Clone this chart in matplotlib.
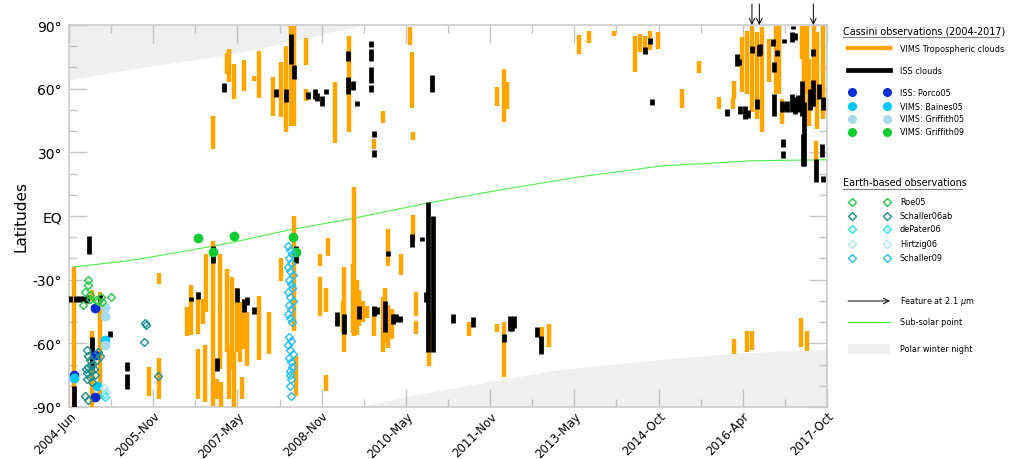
import matplotlib
matplotlib.use("Agg")
import matplotlib.pyplot as plt
from matplotlib.patches import Rectangle
from matplotlib.transforms import ScaledTranslation
import numpy as np

# ---------------- data ----------------
tick_labels = ["2004-Jun", "2005-Nov", "2007-May", "2008-Nov", "2010-May",
               "2011-Nov", "2013-May", "2014-Oct", "2016-Apr", "2017-Oct"]
t_start, t_end = 2004.417, 2017.75

# VIMS tropospheric clouds: (year, lat_low, lat_high)
vims = [
    (2004.50, -90, -24), (2004.82, -90, -54), (2004.82, -40, -35), (2004.96, -86, -36),
    (2005.82, -85, -71), (2006.00, -32, -27), (2006.00, -86, -67), (2006.49, -56.5, -43),
    (2006.56, -56, -32.5), (2006.69, -55.6, -36), (2006.69, -86, -62.7), (2006.77, -51, -39),
    (2006.81, -87.6, -61), (2006.83, -45, -18), (2006.95, -89.5, -12), (2007.02, -86, -76.8),
    (2007.07, -72, -18), (2007.09, -90, -78), (2007.20, -64, -25), (2007.23, -86, -61),
    (2007.28, -72, -28.7), (2007.32, -90, -64), (2007.37, -64, -34), (2007.42, -69, -40.5),
    (2007.46, -86, -76), (2007.50, -62.7, -39), (2007.55, -70.7, -45), (2007.76, -68, -37.7),
    (2007.94, -65, -45), (2008.15, -30.6, -20), (2008.38, -10.8, 0), (2008.38, -54, -10.8),
    (2008.41, -85, -66), (2008.83, -23.6, -18), (2008.83, -47, -28.7), (2008.97, -18.8, -10.4),
    (2008.94, -45, -34), (2008.94, -82.5, -75), (2009.25, -64, -24), (2009.23, -55, -40),
    (2009.43, -56.5, 13.7), (2009.41, -55, -22.6), (2009.48, -56, -30), (2009.52, -52, -35),
    (2009.59, -50, -40), (2009.66, -48, -42.4), (2009.78, -56.5, -47), (2009.94, -64, -38),
    (2009.98, -60, -34), (2010.03, -23.6, -6), (2010.03, -62, -42), (2010.10, -58, -44),
    (2010.26, -27.8, -18), (2010.47, -11.8, 0.5), (2010.52, -47, -36), (2010.52, -55.6, -49.5),
    (2010.75, -70.7, -45), (2011.45, -56.5, -50), (2011.95, -54.7, -51), (2012.07, -76, -50),
    (2012.74, -61.7, -52.3), (2012.86, -61.7, -51), (2016.11, -65, -58), (2016.34, -64, -54),
    (2016.43, -63, -54), (2017.29, -61.7, -48), (2017.40, -63.6, -54),
    (2006.95, 31.6, 47), (2007.20, 67, 77), (2007.23, 63, 78.7), (2007.32, 55, 71.6),
    (2007.50, 59, 73.5), (2007.67, 63.6, 66), (2007.76, 55.6, 77.8), (2008.01, 47, 65.5),
    (2008.15, 46.7, 72.6), (2008.23, 39.6, 80), (2008.32, 42.4, 89.5), (2008.38, 42.4, 89.5),
    (2008.59, 71, 84), (2008.59, 54, 60), (2009.10, 34.4, 63), (2009.34, 39.6, 85),
    (2009.94, 43.8, 49.5), (2009.78, 31.6, 36.3), (2010.42, 80.6, 89), (2010.45, 51, 77.3),
    (2010.47, 35.8, 39.6), (2011.95, 51.8, 61), (2012.07, 44.3, 69.3), (2012.12, 50.4, 63),
    (2013.39, 76.3, 85.3), (2013.56, 81.5, 87), (2014.00, 84.8, 87), (2014.37, 67.9, 84.8),
    (2014.46, 77.3, 85.8), (2014.55, 76.3, 85), (2014.64, 78, 87), (2014.78, 78.7, 86.5),
    (2015.20, 50.9, 59.8), (2015.50, 67.4, 73), (2015.85, 50.4, 56), (2016.10, 50.4, 55.6),
    (2016.11, 55, 63.6), (2016.26, 58.4, 84.4), (2016.34, 57.5, 87), (2016.43, 49, 89.5),
    (2016.52, 45.7, 86.7), (2016.61, 39.6, 89), (2016.73, 63, 83.4), (2016.85, 57.5, 89.5),
    (2016.90, 57.5, 89.5), (2016.96, 43.4, 55), (2017.31, 74, 89.5), (2017.35, 50, 89.5),
    (2017.40, 57.5, 89.5), (2017.43, 42.4, 74), (2017.52, 59.8, 89.5), (2017.57, 41, 86.7),
    (2017.56, 25.4, 35.3), (2017.68, 45.7, 89.5),
]
vims_year = [v[0] for v in vims]
vims_lo = [v[1] for v in vims]
vims_hi = [v[2] for v in vims]

# ISS clouds: (year, lat_low, lat_high)
iss = [
    (2004.50, -90, -80), (2004.77, -17.9, -9.4), (2004.43, -40.5, -37.7), (2004.54, -40.5, -37.7),
    (2004.61, -40.5, -37.7), (2004.68, -40.5, -37.7), (2004.73, -41, -37), (2004.82, -64, -57),
    (2004.82, -72, -66), (2004.96, -40, -37), (2005.14, -57, -54), (2005.44, -73, -69),
    (2005.44, -81.5, -74.5), (2006.56, -40, -38), (2006.69, -39, -36), (2007.02, -73, -67),
    (2006.95, -22, -14), (2007.37, -40.5, -34), (2007.50, -45, -39), (2007.55, -42, -38),
    (2007.67, -46, -43), (2008.41, -22, -14), (2009.13, -52, -45), (2009.25, -55.6, -46),
    (2007.14, 58.4, 62.7), (2008.06, 56, 60), (2008.23, 53.7, 60), (2008.32, 71.6, 85.8),
    (2008.38, 64.6, 71), (2008.62, 55, 58.4), (2008.74, 55, 60), (2008.78, 54, 58),
    (2008.87, 52, 56.5), (2008.94, 57.5, 60), (2009.33, 73, 77.8), (2009.33, 57.5, 65.5),
    (2009.41, 59.4, 63.6), (2009.48, 51.8, 54), (2009.73, 79.6, 82.5), (2009.73, 73, 78.7),
    (2009.73, 62.7, 70), (2009.73, 58.4, 61.7), (2009.78, 37.2, 40), (2009.78, 27.8, 31),
    (2010.80, 58.4, 66.4), (2009.52, -48.5, -42.4), (2009.78, -47, -42.4), (2009.83, -46, -43),
    (2009.98, -54.7, -40), (2010.03, -18.8, -16.5), (2010.12, -51, -46), (2010.17, -50, -46),
    (2010.24, -50, -47), (2010.45, -14.6, -8.5), (2010.63, -12, -10), (2010.70, -40.5, -36),
    (2010.73, -64, 6.6), (2010.82, -64, 0), (2011.17, -50.4, -46), (2011.52, -52.3, -47.6),
    (2012.17, -54, -47), (2012.21, -54, -48), (2012.24, -53, -47), (2012.07, -59.4, -55.6),
    (2012.65, -57, -52.3), (2012.72, -65, -56.5), (2014.55, 76.3, 79.6), (2014.64, 81, 84),
    (2014.67, 52.3, 55), (2015.99, 47, 50.4), (2016.17, 70.7, 76.3), (2016.20, 71, 74),
    (2016.22, 48, 51.8), (2016.31, 45.7, 51.8), (2016.36, 46, 50), (2016.43, 76.8, 80),
    (2016.55, 75.4, 80.6), (2016.57, 76, 81), (2016.52, 50.4, 55), (2016.80, 80, 83.4),
    (2016.82, 67.9, 72.6), (2016.87, 75.4, 78), (2016.82, 47, 57.5), (2016.96, 49, 54),
    (2017.00, 50, 53), (2017.05, 49, 54), (2016.99, 81.5, 83.4), (2016.98, 32.5, 36.3),
    (2016.98, 27.3, 30.6), (2017.13, 82, 86.7), (2017.19, 83, 86), (2017.16, 88, 89.5),
    (2017.13, 49, 57.5), (2017.16, 50, 56), (2017.19, 48, 55), (2017.22, 51, 56),
    (2017.24, 49, 57), (2017.31, 47, 63.6), (2017.35, 23.6, 53.7), (2017.33, 23.6, 38.6),
    (2017.45, 50, 60), (2017.48, 52, 58), (2017.50, 75.4, 78.7), (2017.50, 52, 64),
    (2017.56, 16, 26.9), (2017.61, 55, 62), (2017.66, 27.8, 34), (2017.68, 16, 18.8),
    (2017.68, 50, 56),
]
iss_year = [v[0] for v in iss]
iss_lo = [v[1] for v in iss]
iss_hi = [v[2] for v in iss]

# Cassini point observations
porco05_year = [2004.50, 2004.87, 2004.87, 2004.87]
porco05_lat = [-75, -43.3, -65.5, -85.3]
baines05_year = [2004.50, 2004.91, 2005.05]
baines05_lat = [-76.5, -80, -58.4]
griffith05_year = [2005.05, 2005.05, 2005.05]
griffith05_lat = [-43, -47, -61]
griffith09_year = [2006.69, 2006.95, 2007.32, 2008.36, 2008.41]
griffith09_lat = [-10.4, -17, -9.4, -10, -17]

# Earth-based observations
roe05_year = [2004.75, 2004.75, 2004.70, 2004.79, 2004.66, 2004.79, 2004.89, 2004.98, 2005.00, 2005.16, 2004.93]
roe05_lat = [-30, -32.5, -36, -37, -42, -39, -39.5, -38, -40.5, -38, -40]
schaller06_year = [2004.73, 2004.75, 2004.78, 2004.82, 2004.75, 2004.71, 2004.80, 2004.73, 2004.85,
                   2004.78, 2004.87, 2004.73, 2004.82, 2004.91, 2004.93, 2004.96, 2004.70, 2004.75,
                   2005.75, 2005.77, 2005.74, 2005.98]
schaller06_lat = [-63, -66, -68, -70, -71, -72, -73, -74, -72, -76, -75, -77, -78, -68, -64, -66,
                  -85, -86.7, -50.4, -51.5, -59.4, -75.4]
depater06_year = [2005.05, 2005.03]
depater06_lat = [-85.5, -84]
hirtzig06_year = [2005.03, 2005.06]
hirtzig06_lat = [-81, -83]
schaller09_year = [2008.27, 2008.31, 2008.34, 2008.29, 2008.33, 2008.27, 2008.31, 2008.35, 2008.28,
                   2008.32, 2008.34, 2008.27, 2008.31, 2008.35, 2008.29, 2008.33, 2008.27, 2008.31,
                   2008.34, 2008.29, 2008.33, 2008.27, 2008.31, 2008.35, 2008.28, 2008.32, 2008.34,
                   2008.30, 2008.31, 2008.33, 2008.30, 2008.32]
schaller09_lat = [-14, -16, -18, -20, -22, -24, -26, -28, -30, -32, -34, -36, -38, -40, -42, -44,
                  -46, -48, -50, -57, -59, -61, -63, -65, -67, -69, -71, -73, -75, -77, -80, -85]

# features at 2.1 micron
feature_year = [2016.43, 2016.56, 2017.51]

# sub-solar latitude
subsolar_year = [2004.50, 2005.49, 2006.37, 2007.25, 2008.30, 2009.36, 2010.73, 2012.00,
                 2013.41, 2014.81, 2016.40, 2017.73]
subsolar_lat = [-24, -21, -17, -12.7, -6.5, -1.4, 6.1, 12.3, 18.5, 23.5, 26, 26.5]

# polar winter night boundaries
night_n_year = [2004.417, 2005.44, 2006.32, 2007.23, 2008.30, 2009.18, 2009.60]
night_n_lat = [64, 69, 72.5, 76, 82, 87.5, 90]
night_s_year = [2009.54, 2010.55, 2011.60, 2013.01, 2014.64, 2016.22, 2017.75]
night_s_lat = [-90, -84, -79, -72.5, -68, -64.5, -62.7]

# ---------------- figure ----------------
W, H = 1010, 460
fig = plt.figure(figsize=(W / 100, H / 100), dpi=100)
ax = fig.add_axes([69 / W, (H - 408) / H, (827 - 69) / W, (408 - 26) / H])

night_col = "#efefef"
ax.fill_between(night_n_year, night_n_lat, 90, color=night_col, lw=0, zorder=0)
ax.fill_between(night_s_year, -90, night_s_lat, color=night_col, lw=0, zorder=0)

ax.plot(subsolar_year, subsolar_lat, color="#4cee4c", lw=0.8, zorder=2)

ax.vlines(vims_year, vims_lo, vims_hi, color="#ffa500", lw=3.2, zorder=3)
ax.vlines(iss_year, iss_lo, iss_hi, color="black", lw=3.4, zorder=4)

c_porco, c_baines, c_grif05, c_grif09 = "#0a2ed6", "#00c8ff", "#a6dcea", "#11cc33"
c_roe, c_sch06, c_dep, c_hirt, c_sch09 = "#22cc44", "#1a8f8f", "#22e8f5", "#aee6ee", "#22c0f5"

ms = 6
ax.plot(porco05_year, porco05_lat, "o", color=c_porco, ms=ms, zorder=6)
ax.plot(baines05_year, baines05_lat, "o", color=c_baines, ms=ms, zorder=6)
ax.plot(griffith05_year, griffith05_lat, "o", color=c_grif05, ms=ms, zorder=6)
ax.plot(griffith09_year, griffith09_lat, "o", color=c_grif09, ms=ms, zorder=6)
for yy, ll, cc in [(roe05_year, roe05_lat, c_roe), (schaller06_year, schaller06_lat, c_sch06),
                   (depater06_year, depater06_lat, c_dep), (hirtzig06_year, hirtzig06_lat, c_hirt),
                   (schaller09_year, schaller09_lat, c_sch09)]:
    ax.plot(yy, ll, "D", mfc="none", mec=cc, ms=4.5, mew=1.0, zorder=7)

for fy in feature_year:
    ax.annotate("", xy=(fy, 1.0), xycoords=("data", "axes fraction"),
                xytext=(fy, 1.055), textcoords=("data", "axes fraction"),
                arrowprops=dict(arrowstyle="->", color="black", lw=0.7, shrinkA=0, shrinkB=0),
                annotation_clip=False)

ax.set_xlim(t_start, t_end)
ax.set_ylim(-90, 90)
major = np.linspace(t_start, t_end, 10)
ax.set_xticks(major)
ax.set_xticks((major[:-1] + major[1:]) / 2, minor=True)
ax.set_xticklabels(tick_labels, rotation=45, ha="right", va="top", rotation_mode="anchor", fontsize=8.5)
shift = ScaledTranslation(4.5 / 100, 1.0 / 100, fig.dpi_scale_trans)
for lab in ax.get_xticklabels():
    lab.set_transform(lab.get_transform() + shift)
ax.set_yticks([-90, -60, -30, 0, 30, 60, 90])
ax.set_yticklabels(["-90°", "-60°", "-30°", "EQ", "30°", "60°", "90°"], fontsize=10)
ax.set_yticks(np.arange(-90, 91, 10), minor=True)
tc = "#c4c4c4"
ax.tick_params(which="major", direction="in", length=13, width=1.0, color=tc,
               top=True, right=True)
ax.tick_params(which="minor", direction="in", length=6, width=1.0, color=tc,
               top=True, right=True)
ax.tick_params(axis="x", which="major", pad=1.5)
ax.tick_params(axis="y", which="major", pad=5)
for s in ax.spines.values():
    s.set_color("#cccccc")
    s.set_linewidth(1.2)
ax.set_ylabel("Latitudes", fontsize=11, labelpad=3)

# ---------------- legend (figure pixel coordinates) ----------------
lg = fig.add_axes([0, 0, 1, 1], facecolor="none")
lg.set_xlim(0, W)
lg.set_ylim(H, 0)
lg.axis("off")

fs = 5.9
tft = 6.9
tx = 900
lg.text(843, 31, "Cassini observations (2004-2017)", fontsize=tft, va="center", ha="left")
lg.plot([843, 999], [37.5, 37.5], color="black", lw=0.6, alpha=0.6)
lg.plot([848, 890], [49, 49], color="#ffa500", lw=3.2)
lg.text(tx, 49, "VIMS Tropospheric clouds", fontsize=fs, va="center")
lg.plot([848, 890], [71, 71], color="black", lw=3.4)
lg.text(tx, 71, "ISS clouds", fontsize=fs, va="center")
for yy, cc, lab in [(93, c_porco, "ISS: Porco05"), (107, c_baines, "VIMS: Baines05"),
                    (120, c_grif05, "VIMS: Griffith05"), (133, c_grif09, "VIMS: Griffith09")]:
    lg.plot([852, 887], [yy, yy], "o", color=cc, ms=5.5)
    lg.text(tx, yy, lab, fontsize=fs, va="center")

lg.text(843, 183, "Earth-based observations", fontsize=tft, va="center", ha="left")
lg.plot([843, 962], [189.5, 189.5], color="black", lw=0.6, alpha=0.6)
for yy, cc, lab in [(203, c_roe, "Roe05"), (217, c_sch06, "Schaller06ab"), (230, c_dep, "dePater06"),
                    (245, c_hirt, "Hirtzig06"), (259, c_sch09, "Schaller09")]:
    lg.plot([852, 887], [yy, yy], "D", mfc="none", mec=cc, ms=4.5, mew=1.0)
    lg.text(tx, yy, lab, fontsize=fs, va="center")

lg.annotate("", xy=(890, 302), xytext=(848, 302),
            arrowprops=dict(arrowstyle="->", color="black", lw=0.7, shrinkA=0, shrinkB=0))
lg.text(tx, 302, "Feature at 2.1 $\\mu$m", fontsize=fs, va="center")
lg.plot([848, 890], [323, 323], color="#4cee4c", lw=0.9)
lg.text(tx, 323, "Sub-solar point", fontsize=fs, va="center")
lg.add_patch(Rectangle((848, 345), 42, 10, color=night_col, lw=0))
lg.text(tx, 350, "Polar winter night", fontsize=fs, va="center")

fig.savefig("out.png", dpi=100)
